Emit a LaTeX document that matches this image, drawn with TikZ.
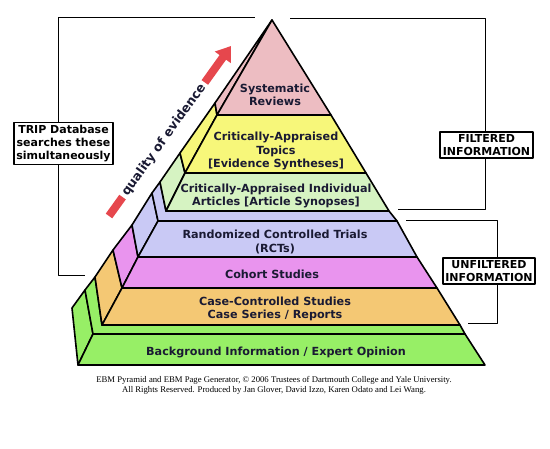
\documentclass[tikz,border=0pt]{standalone}
\usepackage{fontspec}
\setmainfont{DejaVu Sans}
\newfontfamily\creditfont{Liberation Serif}
\usetikzlibrary{arrows.meta}

\definecolor{ebmsysrev}{HTML}{EDBDC2}
\definecolor{ebmtopics}{HTML}{F7F77A}
\definecolor{ebmarticles}{HTML}{D6F3C2}
\definecolor{ebmrct}{HTML}{C9C9F5}
\definecolor{ebmcohort}{HTML}{E994EE}
\definecolor{ebmcase}{HTML}{F4C874}
\definecolor{ebmback}{HTML}{97EF66}
\definecolor{ebmarrow}{HTML}{E6474D}
\definecolor{ebmtext}{HTML}{1A1A33}

\begin{document}
\begin{tikzpicture}[x=1pt,y=-1pt,line join=round,
  face/.style={draw=black,line width=1.6pt},
  band/.style={font=\bfseries\fontsize{11.2}{13.5}\selectfont,text=ebmtext,align=center,inner sep=0pt},
  infobox/.style={draw=black,line width=1.7pt,fill=white,align=center,inner sep=2.5pt,
    font=\bfseries\fontsize{11}{13}\selectfont},
  bracket/.style={draw=black,line width=0.8pt}]
  % Keep the frame of the original image.
  \useasboundingbox (0,0) rectangle (550,449);

  % Background information slab: side, step, front.
  \filldraw[face,fill=ebmback] (78,365) -- (93,334) -- (85,290) -- (72,308) -- cycle;
  \filldraw[face,fill=ebmback] (93,334) -- (465,334) -- (460,325) -- (102,325) -- (95,277) -- (85,290) -- cycle;
  \filldraw[face,fill=ebmback] (78,365) -- (485,365) -- (465,334) -- (93,334) -- cycle;

  % Unfiltered stack: side faces first, then the fronts.
  \filldraw[face,fill=ebmcase] (102,325) -- (122,288) -- (113,250) -- (95,277) -- cycle;
  \filldraw[face,fill=ebmcohort] (122,288) -- (138,257) -- (132,225) -- (113,250) -- cycle;
  \filldraw[face,fill=ebmrct] (138,257) -- (158,221) -- (152,193) -- (132,225) -- cycle;
  \filldraw[face,fill=ebmcase] (102,325) -- (460,325) -- (437,288) -- (122,288) -- cycle;
  \filldraw[face,fill=ebmcohort] (122,288) -- (437,288) -- (417,257) -- (138,257) -- cycle;
  \filldraw[face,fill=ebmrct] (138,257) -- (417,257) -- (397,221) -- (158,221) -- cycle;
  \filldraw[face,fill=ebmrct] (158,221) -- (397,221) -- (389,211) -- (166,211) -- (160,182) -- (152,193) -- cycle;

  % Filtered pyramid on top.
  \coordinate (apex) at (272,20);
  \filldraw[face,fill=ebmarticles] (166,211) -- (185,173) -- (180,153) -- (160,182) -- cycle;
  \filldraw[face,fill=ebmtopics] (185,173) -- (217,115) -- (215,103) -- (180,153) -- cycle;
  \filldraw[face,fill=ebmsysrev] (217,115) -- (apex) -- (215,103) -- cycle;
  \filldraw[face,fill=ebmarticles] (166,211) -- (389,211) -- (366,173) -- (185,173) -- cycle;
  \filldraw[face,fill=ebmtopics] (185,173) -- (366,173) -- (331,115) -- (217,115) -- cycle;
  \filldraw[face,fill=ebmsysrev] (217,115) -- (331,115) -- (apex) -- cycle;

  % Level labels.
  \node[band] (sysrev) at (275,95) {Systematic\\Reviews};
  \node[band] (topics) at (276,151) {Critically-Appraised\\Topics\\{[}Evidence Syntheses{]}};
  \node[band] (articles) at (276,196) {Critically-Appraised Individual\\Articles [Article Synopses]};
  \node[band] (rcts) at (275,242) {Randomized Controlled Trials\\(RCTs)};
  \node[band] (cohort) at (272,274) {Cohort Studies};
  \node[band] (casecon) at (275,309) {Case-Controlled Studies\\Case Series / Reports};
  \node[band] (backgr) at (276,352) {Background Information / Expert Opinion};

  % Quality arrow, its middle hidden behind the words.
  \coordinate (qlow) at (109,216);
  \coordinate (qhigh) at (231,46);
  \draw[ebmarrow,line width=8pt,-{Triangle[width=19pt,length=14pt]}] (qlow) -- (qhigh);
  \node[fill=white,text=ebmtext,inner xsep=3pt,inner ysep=2pt,rotate=54.4,
    font=\bfseries\fontsize{12.5}{14}\selectfont] (quality) at (164,140) {quality of evidence};

  % Side labels with their brackets.
  \node[infobox] (trip) at (63.5,143.5) {TRIP Database\\searches these\\simultaneously};
  \node[infobox] (filtered) at (486.5,145) {FILTERED\\INFORMATION};
  \node[infobox] (unfiltered) at (489,271) {UNFILTERED\\INFORMATION};
  \coordinate (tripend1) at (255,17);
  \coordinate (tripend2) at (85,275);
  \coordinate (filtend1) at (290,18);
  \coordinate (filtend2) at (398,209);
  \coordinate (unfiltend1) at (406,220);
  \coordinate (unfiltend2) at (468,323);
  \draw[bracket] ([xshift=-5.5pt]trip.north) |- (tripend1);
  \draw[bracket] ([xshift=-5.5pt]trip.south) |- (tripend2);
  \draw[bracket] ([xshift=-1.5pt]filtered.north) |- (filtend1);
  \draw[bracket] ([xshift=-1.5pt]filtered.south) |- (filtend2);
  \draw[bracket] ([xshift=8pt]unfiltered.north) |- (unfiltend1);
  \draw[bracket] ([xshift=8pt]unfiltered.south) |- (unfiltend2);

  % Credits.
  \node[font=\creditfont\fontsize{8.7}{9.5}\selectfont,align=center,inner sep=0pt] (credits) at (274,385.5)
    {EBM Pyramid and EBM Page Generator, © 2006 Trustees of Dartmouth College and Yale University.\\
     All Rights Reserved. Produced by Jan Glover, David Izzo, Karen Odato and Lei Wang.};
\end{tikzpicture}
\end{document}
